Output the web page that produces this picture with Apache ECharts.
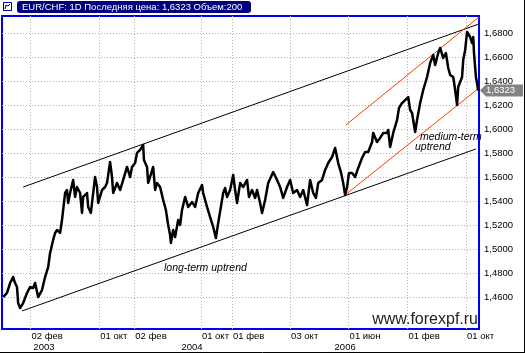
<!DOCTYPE html>
<html><head><meta charset="utf-8">
<script src="https://cdn.jsdelivr.net/npm/echarts@6/dist/echarts.min.js"></script>
<style>html,body{margin:0;padding:0;background:#fff}#c{width:525px;height:353px}</style>
</head><body><div id="c"></div>
<script>
// x axis: trading-day index
const tickDays = [74, 253, 344, 517, 598, 749, 901, 1054, 1206];
const tickLabels = ['02 фев', '01 окт', '02 фев', '01 окт', '01 фев', '03 окт', '01 июн', '01 фев', '01 окт'];
const yearDays = [109, 494, 892];
const yearLabels = ['2003', '2004', '2006'];
const priceTicks = [1.46, 1.48, 1.50, 1.52, 1.54, 1.56, 1.58, 1.60, 1.62, 1.64, 1.66, 1.68];
const lastPrice = 1.6323;

const days = [3,13,21,29,34,39,42,47,55,65,73,81,86,94,104,112,120,125,133,138,143,151,156,159,164,169,172,177,185,190,195,203,208,211,221,224,231,237,242,247,250,260,268,273,281,286,289,299,307,315,325,333,338,346,351,359,367,369,377,380,
385,393,398,403,411,419,426,432,437,439,445,450,458,463,468,476,484,494,502,510,520,523,533,541,549,556,562,569,575,580,585,593,601,606,611,619,627,637,642,650,658,663,671,676,684,692,705,715,723,731,741,749,757,767,775,783,793,801,809,816,822,832,840,848,858,866,874,881,887,892,897,902,
910,918,926,936,944,952,962,965,975,983,991,1001,1004,1009,1017,1027,1032,1040,1048,1056,1061,1066,1074,1079,1087,1095,1105,1113,1121,1126,1134,1139,1147,1154,1160,1165,1173,1178,1183,1186,1196,1199,1204,1209,1217,1222,1225,1227,1232,1238];
const prices = [1.4602,1.4636,1.4719,1.4769,1.4719,1.4686,1.4552,1.4511,1.4552,1.4636,1.4686,1.4678,1.4719,1.4602,1.4661,1.4769,1.4852,1.4969,1.5078,1.5136,1.5161,1.5136,1.5244,1.5328,1.5469,1.5494,1.5386,1.5469,1.5578,1.5436,1.5519,1.5469,1.5303,1.5436,1.5469,1.5353,1.5303,1.5469,1.5603,1.5519,1.5386,1.5494,1.5519,1.5553,1.5728,1.5603,1.5469,1.5553,1.5494,1.5578,1.5686,1.5603,1.5686,1.5719,1.5803,1.5828,1.5869,1.5744,1.5686,1.5553,
1.5603,1.5686,1.5494,1.5553,1.5519,1.5411,1.5328,1.5203,1.5119,1.5053,1.5161,1.5103,1.5244,1.5203,1.5328,1.5436,1.5353,1.5394,1.5353,1.5469,1.5536,1.5469,1.5353,1.5269,1.5186,1.5094,1.5219,1.5353,1.5469,1.5511,1.5436,1.5494,1.5619,1.5494,1.5386,1.5553,1.5519,1.5578,1.5436,1.5494,1.5428,1.5494,1.5386,1.5303,1.5411,1.5553,1.5644,1.5578,1.5519,1.5428,1.5519,1.5578,1.5469,1.5494,1.5436,1.5494,1.5369,1.5578,1.5469,1.5428,1.5553,1.5578,1.5661,1.5719,1.5769,1.5844,1.5719,1.5644,1.5553,1.5453,1.5519,1.5636,
1.5636,1.5603,1.5678,1.5761,1.5811,1.5811,1.5894,1.5969,1.5894,1.5928,1.5969,1.5969,1.5994,1.5853,1.5969,1.6078,1.6178,1.6219,1.6244,1.6269,1.6161,1.6136,1.5978,1.6078,1.6219,1.6328,1.6436,1.6553,1.6619,1.6536,1.6636,1.6678,1.6594,1.6636,1.6511,1.6453,1.6436,1.6328,1.6203,1.6353,1.6436,1.6578,1.6661,1.6811,1.6769,1.6719,1.6769,1.6636,1.6436,1.6323];

const longUpper = [[55, 1.5519], [1240, 1.6878]];
const longLower = [[52, 1.4486], [1232, 1.5836]];
const mediumUpper = [[894, 1.6036], [1240, 1.6936]];
const mediumLower = [[892, 1.5453], [1240, 1.6344]];

const FONT = 'Liberation Sans, Arial, sans-serif';
const chart = echarts.init(document.getElementById('c'), null, {renderer: 'canvas'});
const fmtPrice = v => v.toFixed(4).replace('.', ',');
const dotted = {show: true, lineStyle: {color: '#b4b4b4', type: [1, 2], width: 1}};

chart.setOption({
  animation: false,
  backgroundColor: '#fff',
  grid: {left: 2, right: 46, top: 16, bottom: 24, show: true, borderColor: '#0000f0', borderWidth: 2, backgroundColor: 'transparent'},
  xAxis: [{
    type: 'value', min: 0, max: 1240, position: 'bottom',
    axisLine: {show: false},
    axisTick: {show: false, customValues: tickDays},
    axisLabel: {customValues: tickDays, formatter: v => tickLabels[tickDays.indexOf(v)] || '', align: 'left', margin: 2, padding: [0,0,0,1], fontSize: 9.5, fontFamily: FONT, color: '#000'},
    splitLine: dotted
  }, {
    type: 'value', min: 0, max: 1240, position: 'bottom', offset: 11,
    axisLine: {show: false}, axisTick: {show: false, customValues: yearDays},
    axisLabel: {customValues: yearDays, formatter: v => yearLabels[yearDays.indexOf(v)] || '', align: 'center', margin: 2, fontSize: 9.5, fontFamily: FONT, color: '#000'},
    splitLine: {show: false}
  }],
  yAxis: {
    type: 'value', min: 1.43358, max: 1.69442, position: 'right',
    axisLine: {show: false},
    axisTick: {show: false, customValues: priceTicks},
    axisLabel: {customValues: priceTicks, formatter: fmtPrice, margin: 5, fontSize: 9.5, fontFamily: FONT, color: '#000'},
    splitLine: dotted
  },
  series: [
    {type: 'line', data: days.map((d, i) => [d, prices[i]]), symbol: 'none', lineStyle: {color: '#000', width: 2.5, join: 'round'}, z: 5},
    {type: 'line', data: longUpper, symbol: 'none', lineStyle: {color: '#000', width: 1}, z: 4},
    {type: 'line', data: longLower, symbol: 'none', lineStyle: {color: '#000', width: 1}, z: 4},
    {type: 'line', data: mediumUpper, symbol: 'none', lineStyle: {color: '#ff3c00', width: 1}, z: 4},
    {type: 'line', data: mediumLower, symbol: 'none', lineStyle: {color: '#ff3c00', width: 1}, z: 4}
  ]
});

const ty = chart.convertToPixel({yAxisIndex: 0}, lastPrice);
const tx = 480;
chart.setOption({
  graphic: [
    {type: 'rect', shape: {x: 17, y: 1, width: 234, height: 12, r: 3}, style: {fill: '#00007f'}, z: 20},
    {type: 'text', x: 22, y: 7, style: {text: 'EUR/CHF: 1D Последняя цена: 1,6323 Объем:200', fill: '#fff', font: '9.5px ' + FONT, verticalAlign: 'middle'}, z: 21},
    {type: 'rect', shape: {x: 3.5, y: 2.5, width: 8, height: 8}, style: {fill: '#fff', stroke: '#00007f', lineWidth: 1}, z: 20},
    {type: 'polyline', shape: {points: [[5, 9], [6, 5], [8, 6], [10, 4]]}, style: {stroke: '#00007f', lineWidth: 1, fill: null}, z: 21},
    {type: 'polygon', shape: {points: [[tx, ty], [tx + 6, ty - 6], [523, ty - 6], [523, ty + 6], [tx + 6, ty + 6]]}, style: {fill: '#838383'}, z: 20},
    {type: 'text', x: tx + 6, y: ty, style: {text: fmtPrice(lastPrice), fill: '#fff', font: '9.5px ' + FONT, verticalAlign: 'middle'}, z: 21},
    {type: 'text', x: 164, y: 268, style: {text: 'long-term uptrend', fill: '#000', font: 'italic 10.5px ' + FONT, verticalAlign: 'middle'}, z: 10},
    {type: 'text', x: 420, y: 137.5, style: {text: 'medium-term', fill: '#000', font: 'italic 10.5px ' + FONT, verticalAlign: 'middle'}, z: 10},
    {type: 'text', x: 415, y: 147.5, style: {text: 'uptrend', fill: '#000', font: 'italic 10.5px ' + FONT, verticalAlign: 'middle'}, z: 10},
    {type: 'text', x: 478, y: 328, style: {text: 'www.forexpf.ru', fill: '#222', font: '16px ' + FONT, align: 'right', verticalAlign: 'bottom'}, z: 10},
    {type: 'line', shape: {x1: 524.5, y1: 0, x2: 524.5, y2: 353}, style: {stroke: '#000', lineWidth: 1}, z: 20},
    {type: 'line', shape: {x1: 0, y1: 352.5, x2: 525, y2: 352.5}, style: {stroke: '#000', lineWidth: 1}, z: 20}
  ]
});
</script></body></html>
